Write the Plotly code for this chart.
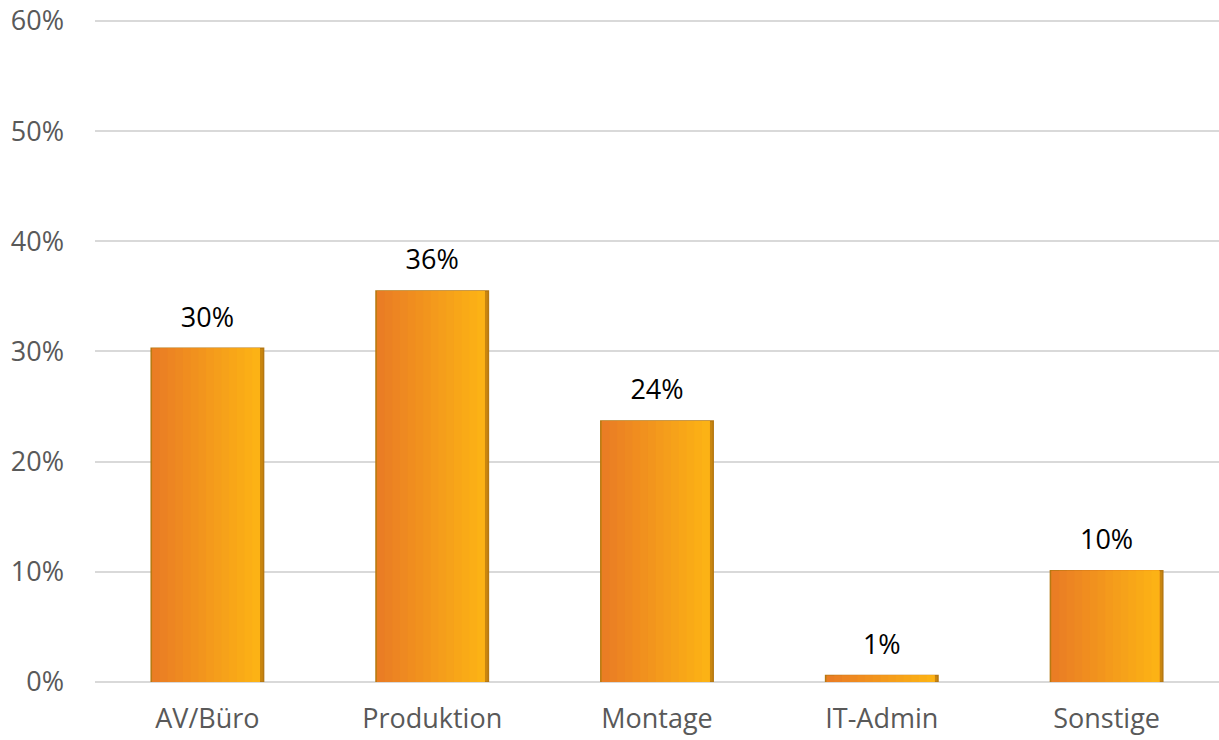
import plotly.graph_objects as go

categories = ["AV/Büro", "Produktion", "Montage", "IT-Admin", "Sonstige"]
values = [0.303, 0.355, 0.237, 0.006, 0.101]
y_ticks = [0, 0.1, 0.2, 0.3, 0.4, 0.5, 0.6]

FONT = "Open Sans"
BAR_W = 0.5
N = 14
c0 = (0xEA, 0x7D, 0x24)
c1 = (0xFC, 0xB2, 0x15)

fig = go.Figure()
# base bar with darker edge (bevel/shadow)
fig.add_trace(go.Bar(
    x=categories, y=values, width=BAR_W,
    marker=dict(color="#C9860F", line=dict(color="#B67812", width=1.5)),
    hoverinfo="skip", showlegend=False,
))
# horizontal gradient approximated by overlapping slices
for i in range(N):
    t = i / (N - 1)
    col = "rgb(%d,%d,%d)" % tuple(round(a + (b - a) * t) for a, b in zip(c0, c1))
    step = (BAR_W - 0.02) / N
    off = -BAR_W / 2 + 0.004 + i * step
    w = BAR_W - 0.02 - i * step
    fig.add_trace(go.Bar(
        x=categories, y=values, width=w, offset=off,
        marker=dict(color=col, line=dict(width=0)),
        hoverinfo="skip", showlegend=False,
    ))
# data labels
fig.add_trace(go.Scatter(
    x=categories, y=values, mode="markers+text",
    marker=dict(size=22, color="rgba(0,0,0,0)"),
    texttemplate="%{y:.0%}", textposition="top center",
    textfont=dict(family=FONT, size=27, color="#000000"),
    cliponaxis=False, showlegend=False, hoverinfo="skip",
))

fig.update_layout(
    barmode="overlay",
    width=1219, height=740,
    margin=dict(l=95, r=0, t=15, b=58, autoexpand=False),
    paper_bgcolor="white", plot_bgcolor="white",
    font=dict(family=FONT, size=27, color="#595959"),
    xaxis=dict(
        showgrid=False, showline=False, ticks="", automargin=False,
        tickfont=dict(family=FONT, size=27, color="#595959"),
        ticklabelstandoff=18,
    ),
    yaxis=dict(
        range=[0, 0.6054], tickvals=y_ticks, tickformat=".0%",
        showgrid=True, gridcolor="#D9D9D9", gridwidth=1.5,
        zeroline=True, zerolinecolor="#D9D9D9", zerolinewidth=1.5,
        showline=False, ticks="", automargin=False,
        tickfont=dict(family=FONT, size=27, color="#595959"),
        ticklabelstandoff=30, ticklabeloverflow="allow",
    ),
)

fig.write_html(
    "out.html",
    config={"displayModeBar": False},
    post_script="document.body.style.margin='0';",
)
